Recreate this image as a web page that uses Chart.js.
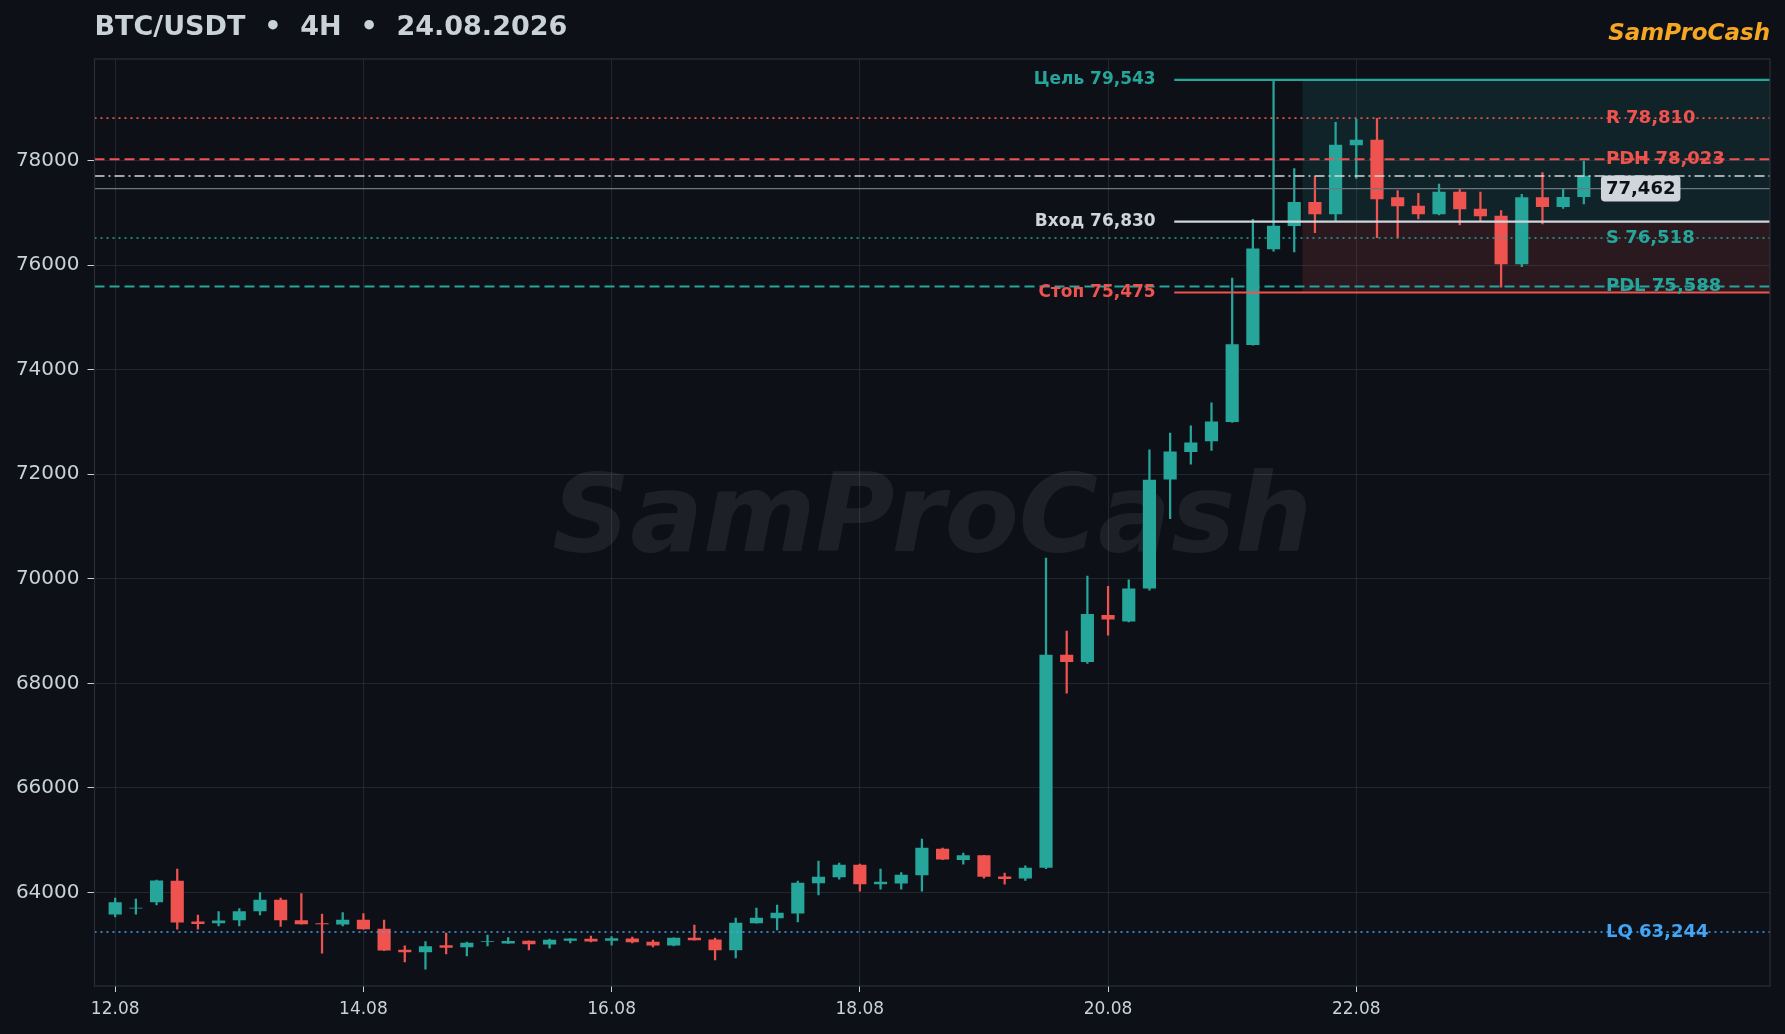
<!DOCTYPE html>
<html>
<head>
<meta charset="utf-8">
<script src="https://cdn.jsdelivr.net/npm/chart.js@4.4.1/dist/chart.umd.min.js"></script>
<style>
  html, body { margin: 0; background: #0d1117; }
  canvas { display: block; }
</style>
</head>
<body>
<canvas id="chart" width="1785" height="1034" style="width:1785px;height:1034px"></canvas>
<script>
// 4H candles, index 0 = 12.08 00:00
const opens = [63586, 63700, 63822, 64217, 63440, 63420, 63477, 63649, 63853, 63465,
  63405, 63394, 63471, 63299, 62900, 62865, 62985, 62961, 63060, 63030,
  63069, 63012, 63085, 63107, 63082, 63114, 63050, 62993, 63127, 63095,
  62904, 63420, 63516, 63605, 64185, 64300, 64523, 64165, 64178, 64338,
  64832, 64627, 64704, 64300, 64275, 64480, 68541, 68413, 69300, 69188,
  69820, 71904, 72429, 72637, 73003, 74477, 76309, 76755, 77200, 76977,
  78296, 78392, 77289, 77130, 76977, 77398, 77073, 76939, 76021, 77289,
  77117, 77308]
const highs = [63892, 63873, 64236, 64446, 63566, 63637, 63694, 64000, 63892, 63981,
  63586, 63618, 63598, 63471, 62980, 63063, 63222, 63050, 63184, 63139,
  63075, 63107, 63120, 63165, 63158, 63146, 63088, 63135, 63375, 63127,
  63509, 63700, 63758, 64217, 64599, 64561, 64542, 64446, 64382, 65020,
  64851, 64755, 64710, 64371, 64512, 70396, 69002, 70050, 69856, 69978,
  72465, 72788, 72924, 73363, 75750, 76877, 79543, 77847, 77691, 78730,
  78788, 78806, 77423, 77372, 77551, 77449, 77398, 77041, 77353, 77768,
  77449, 77990]
const lows = [63535, 63586, 63764, 63299, 63299, 63363, 63363, 63573, 63350, 63395,
  62840, 63363, 63300, 62890, 62674, 62534, 62827, 62789, 62980, 63025,
  62904, 62935, 63037, 63056, 62993, 63037, 62961, 62980, 63090, 62712,
  62750, 63414, 63286, 63439, 63955, 64255, 64025, 64064, 64064, 64025,
  64627, 64544, 64275, 64160, 64230, 64454, 67812, 68381, 68922, 69174,
  69784, 71149, 72191, 72457, 72990, 74470, 76266, 76251, 76620, 76830,
  77659, 76524, 76524, 76881, 76958, 76767, 76830, 75575, 75970, 76785,
  77085, 77168]
const closes = [63809, 63700, 64223, 63433, 63405, 63460, 63637, 63853, 63477, 63400,
  63400, 63471, 63305, 62897, 62865, 62967, 62950, 63031, 63060, 63065,
  63018, 63088, 63115, 63069, 63120, 63056, 62993, 63127, 63095, 62904,
  63414, 63509, 63605, 64178, 64293, 64523, 64166, 64200, 64331, 64848,
  64640, 64704, 64307, 64265, 64467, 68541, 68413, 69321, 69230, 69806,
  71890, 72429, 72601, 73003, 74477, 76309, 76747, 77200, 76977, 78296,
  78392, 77264, 77130, 76977, 77398, 77073, 76939, 76021, 77289, 77117,
  77295, 77703]

const xTickIndex = [0, 12, 24, 36, 48, 60]
const xTickLabels = ['12.08', '14.08', '16.08', '18.08', '20.08', '22.08']
const yTicks = [64000, 66000, 68000, 70000, 72000, 74000, 76000, 78000]

const levelNames = ['R', 'PDH', 'S', 'PDL', 'LQ']
const levelValues = [78810, 78023, 76518, 75588, 63244]

const tradeNames = ['Цель', 'Вход', 'Стоп']
const tradeValues = [79543, 76830, 75475]

const priceNow = 77462

// styles
const UP = '#26a69a'
const DOWN = '#ef5350'
const TXT = '#c9d1d9'
const BG = '#0d1117'
const GRID = 'rgba(42,47,56,0.75)'
const FONT = '"DejaVu Sans", sans-serif'
const levelStyle = {
  R:   { color: DOWN, dash: [2, 4], width: 1.6 },
  PDH: { color: DOWN, dash: [10, 5], width: 2 },
  S:   { color: UP, dash: [2, 4], width: 1.6 },
  PDL: { color: UP, dash: [10, 5], width: 2 },
  LQ:  { color: '#42a5f5', dash: [2, 4], width: 1.6 },
}
const tradeColors = [UP, '#d0d5dc', DOWN]
const zoneStart = 57.4
const tradeLineStart = 51.2
const tradeLabelEnd = 50.3
const levelLabelX = 72.07

const fmt = v => v.toLocaleString('en-US')
const candleColors = closes.map((c, i) => c >= opens[i] ? UP : DOWN)

const backdrop = {
  id: 'backdrop',
  beforeDraw(chart) {
    const ctx = chart.ctx
    ctx.save()
    ctx.fillStyle = BG
    ctx.fillRect(0, 0, chart.width, chart.height)
    ctx.restore()
  },
  beforeDatasetsDraw(chart) {
    const { ctx, chartArea: a, scales: { x, y } } = chart
    ctx.save()
    // watermark
    ctx.font = 'italic bold 108px ' + FONT
    ctx.fillStyle = 'rgba(255,255,255,0.065)'
    ctx.textAlign = 'center'
    ctx.textBaseline = 'middle'
    ctx.fillText('SamProCash', (a.left + a.right) / 2, 523)
    // target / stop zones
    const zx = x.getPixelForValue(zoneStart)
    ctx.fillStyle = 'rgba(38,166,154,0.13)'
    ctx.fillRect(zx, y.getPixelForValue(tradeValues[0]), a.right - zx,
      y.getPixelForValue(tradeValues[1]) - y.getPixelForValue(tradeValues[0]))
    ctx.fillStyle = 'rgba(239,83,80,0.13)'
    ctx.fillRect(zx, y.getPixelForValue(tradeValues[1]), a.right - zx,
      y.getPixelForValue(tradeValues[2]) - y.getPixelForValue(tradeValues[1]))
    ctx.restore()
  }
}

function hline(ctx, x1, x2, yy, color, width, dash) {
  ctx.beginPath()
  ctx.strokeStyle = color
  ctx.lineWidth = width
  ctx.setLineDash(dash || [])
  ctx.moveTo(x1, yy)
  ctx.lineTo(x2, yy)
  ctx.stroke()
  ctx.setLineDash([])
}

const overlay = {
  id: 'overlay',
  afterDraw(chart) {
    const { ctx, chartArea: a, scales: { x, y } } = chart
    ctx.save()
    ctx.beginPath()
    ctx.rect(a.left, a.top, a.right - a.left, a.bottom - a.top)
    ctx.clip()

    levelNames.forEach((n, i) => {
      const s = levelStyle[n]
      hline(ctx, a.left, a.right, y.getPixelForValue(levelValues[i]), s.color, s.width, s.dash)
    })
    // last close
    hline(ctx, a.left, a.right, y.getPixelForValue(closes[closes.length - 1]), '#d6d6d6', 1.6, [10, 4, 2, 4])
    // current price
    hline(ctx, a.left, a.right, y.getPixelForValue(priceNow), '#6e7681', 1.2)

    const tx = x.getPixelForValue(tradeLineStart)
    tradeValues.forEach((v, i) => {
      hline(ctx, tx, a.right, y.getPixelForValue(v), tradeColors[i], 2.2)
    })

    ctx.font = 'bold 18px ' + FONT
    ctx.textBaseline = 'middle'
    ctx.textAlign = 'left'
    const lx = x.getPixelForValue(levelLabelX)
    levelNames.forEach((n, i) => {
      ctx.fillStyle = levelStyle[n].color
      ctx.fillText(n + ' ' + fmt(levelValues[i]), lx, y.getPixelForValue(levelValues[i]))
    })

    // price tag
    const py = y.getPixelForValue(priceNow)
    const label = fmt(priceNow)
    const w = ctx.measureText(label).width + 10
    ctx.fillStyle = '#d0d5dc'
    ctx.beginPath()
    ctx.roundRect(lx - 5, py - 13, w, 26, 4)
    ctx.fill()
    ctx.fillStyle = '#0d1117'
    ctx.fillText(label, lx, py + 1)
    ctx.restore()

    ctx.save()
    // trade labels
    ctx.font = 'bold 17px ' + FONT
    ctx.textAlign = 'right'
    ctx.textBaseline = 'middle'
    const ex = x.getPixelForValue(tradeLabelEnd)
    tradeNames.forEach((n, i) => {
      ctx.fillStyle = tradeColors[i]
      ctx.fillText(n + ' ' + fmt(tradeValues[i]), ex, y.getPixelForValue(tradeValues[i]))
    })

    // frame
    ctx.strokeStyle = '#2a2f37'
    ctx.lineWidth = 1.2
    ctx.strokeRect(a.left, a.top, a.right - a.left, a.bottom - a.top)

    // header
    ctx.textAlign = 'left'
    ctx.fillStyle = TXT
    ctx.font = 'bold 27px ' + FONT
    ctx.fillText('BTC/USDT  •  4H  •  24.08.2026', a.left, 28)
    ctx.textAlign = 'right'
    ctx.fillStyle = '#f5a623'
    ctx.font = 'italic bold 23px ' + FONT
    ctx.fillText('SamProCash', a.right, 34)
    ctx.restore()
  }
}

new Chart('chart', {
  type: 'bar',
  data: {
    datasets: [{
      label: 'wick',
      data: opens.map((o, i) => ({ x: i, y: [lows[i], highs[i]] })),
      backgroundColor: candleColors,
      barThickness: 1.6,
      grouped: false,
    }, {
      label: 'body',
      data: opens.map((o, i) => ({ x: i, y: [o, closes[i]] })),
      backgroundColor: candleColors,
      barThickness: 12.5,
      grouped: false,
    }]
  },
  options: {
    responsive: false,
    animation: false,
    devicePixelRatio: 1,
    layout: { padding: { top: 59, right: 15, left: 0, bottom: 0 } },
    plugins: { legend: { display: false }, tooltip: { enabled: false } },
    scales: {
      x: {
        type: 'linear', min: -1, max: 80, offset: false, z: 1,
        afterBuildTicks: s => { s.ticks = xTickIndex.map(v => ({ value: v })) },
        afterFit: s => { s.height = 48 },
        ticks: {
          color: TXT, font: { family: FONT, size: 17 }, padding: 7,
          maxRotation: 0, autoSkip: false,
          callback: v => xTickLabels[xTickIndex.indexOf(v)]
        },
        grid: { color: GRID, tickColor: TXT, tickLength: 6, offset: false },
        border: { display: false }
      },
      y: {
        min: 62212, max: 79941, z: 1,
        afterBuildTicks: s => { s.ticks = yTicks.map(v => ({ value: v })) },
        afterFit: s => { s.width = 94.5 },
        ticks: {
          color: TXT, font: { family: FONT, size: 20 }, padding: 8,
          callback: v => String(v)
        },
        grid: { color: GRID, tickColor: TXT, tickLength: 7 },
        border: { display: false }
      }
    }
  },
  plugins: [backdrop, overlay]
})
</script>
</body>
</html>
